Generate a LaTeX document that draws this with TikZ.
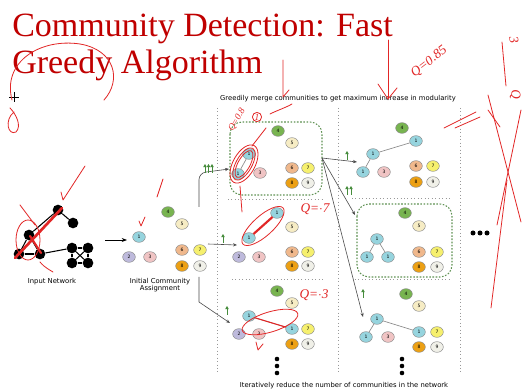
\documentclass[tikz,border=0pt]{standalone}
\usepackage{fontspec}
\setmainfont{Liberation Serif}
\newfontfamily\slidesans{DejaVu Sans}
\usetikzlibrary{arrows.meta,shapes.geometric}

\definecolor{titlered}{RGB}{192,0,0}
\definecolor{inkred}{RGB}{226,38,38}
\definecolor{boxgreen}{RGB}{96,146,84}
\definecolor{arrowgreen}{RGB}{70,140,60}
\definecolor{comA}{RGB}{150,212,222}
\definecolor{comB}{RGB}{190,186,220}
\definecolor{comC}{RGB}{240,196,196}
\definecolor{comD}{RGB}{120,180,80}
\definecolor{comE}{RGB}{246,236,196}
\definecolor{comF}{RGB}{240,184,140}
\definecolor{comG}{RGB}{246,240,110}
\definecolor{comH}{RGB}{236,160,20}
\definecolor{comI}{RGB}{240,240,232}

\tikzset{
  comm/.style={ellipse,draw=black!45,line width=0.35pt,inner sep=0pt,minimum width=9.5pt,minimum height=8pt,font=\slidesans\fontsize{3.4}{4}\selectfont},
  k1/.style={comm,fill=comA},
  k2/.style={comm,fill=comB},
  k3/.style={comm,fill=comC},
  k4/.style={comm,fill=comD},
  k5/.style={comm,fill=comE},
  k6/.style={comm,fill=comF},
  k7/.style={comm,fill=comG},
  k8/.style={comm,fill=comH},
  k9/.style={comm,fill=comI},
  vertex/.style={circle,fill=black,inner sep=0pt,minimum size=8pt},
  netedge/.style={black,line width=0.8pt},
  merged/.style={black!45,line width=0.5pt},
  flow/.style={black!70,line width=0.45pt,-{Stealth[length=3pt,width=2.4pt]}},
  gain/.style={arrowgreen,line width=0.7pt,-{Triangle[length=2.4pt,width=2.6pt]}},
  divider/.style={black!40,dotted,line width=0.6pt},
  groupbox/.style={boxgreen,dash pattern=on 1.2pt off 1.2pt,line width=0.8pt,rounded corners=9pt},
  caption/.style={font=\slidesans\fontsize{5.1}{5.6}\selectfont,inner sep=0pt},
  title/.style={font=\fontsize{25.5}{28}\selectfont,text=titlered,inner sep=0pt},
  ink/.style={inkred,line width=0.6pt,line cap=round,line join=round},
  inktext/.style={text=inkred,font=\itshape\fontsize{10}{10}\selectfont,inner sep=0pt},
}

\begin{document}
\begin{tikzpicture}[x=0.75pt,y=0.75pt,yscale=-1,xscale=1]
    \path[use as bounding box,fill=white] (0,0) rectangle (522,392);

    % Title
    \node[title,anchor=base west] (ttl1) at (12,37) {Community Detection: Fast};
    \node[title,anchor=base west] (ttl2) at (12,74) {Greedy Algorithm};

    % Captions
    \node[caption] (hdr) at (338,99) {Greedily merge communities to get maximum increase in modularity};
    \node[caption] (ftr) at (344,386) {Iteratively reduce the number of communities in the network};
    \node[caption] (capnet) at (52,282) {Input Network};
    \node[caption,align=center] (capinit) at (160,285) {Initial Community\\Assignment};

    % Dividers
    \draw[divider] (217,108) -- (217,372);
    \draw[divider] (338,108) -- (338,372);
    \draw[divider] (460,108) -- (460,372);
    \draw[divider] (228,199) -- (323,199);
    \draw[divider] (232,279) -- (325,279);
    \draw[divider] (352,198) -- (450,198);
    \draw[divider] (355,279) -- (452,279);

    % Green groups
    \draw[groupbox] (230,122) rectangle (322,195);
    \draw[groupbox] (357,204) rectangle (452,277);

    % Input network
    \node[vertex] (va) at (58,210) {};
    \node[vertex] (vb) at (73,223) {};
    \node[vertex] (vc) at (29,235) {};
    \node[vertex] (vd) at (19,254) {};
    \node[vertex] (ve) at (40,254) {};
    \node[vertex] (s1) at (72,248) {};
    \node[vertex] (s2) at (88,248) {};
    \node[vertex] (s3) at (72,263) {};
    \node[vertex] (s4) at (88,263) {};
    \foreach \a/\b in {va/vb,va/vc,vc/vd,vc/ve,vd/ve,ve/s1,s1/s2,s2/s4,s4/s3,s3/s1,s1/s4,s2/s3}
        \draw[netedge] (\a) -- (\b);

    % Initial assignment
    \node[k1] (i1) at (139,237) {1};
    \node[k2] (i2) at (129,257) {2};
    \node[k3] (i3) at (150,257) {3};
    \node[k4] (i4) at (168,212) {4};
    \node[k5] (i5) at (182,224) {5};
    \node[k6] (i6) at (182,250) {6};
    \node[k7] (i7) at (200,250) {7};
    \node[k8] (i8) at (182,266) {8};
    \node[k9] (i9) at (200,266) {9};

    % Step 1, merge 1+2
    \node[k1] (t1a) at (249,154) {1};
    \node[k1] (t1b) at (238,174) {1};
    \node[k3] (t3) at (260,173) {3};
    \node[k4] (t4) at (278,131) {4};
    \node[k5] (t5) at (292,143) {5};
    \node[k6] (t6) at (292,168) {6};
    \node[k7] (t7) at (308,168) {7};
    \node[k8] (t8) at (292,183) {8};
    \node[k9] (t9) at (308,183) {9};

    % Step 1, merge 1+4
    \node[k1] (m1a) at (277,213) {1};
    \node[k1] (m1b) at (249,238) {1};
    \node[k2] (m2) at (239,257) {2};
    \node[k3] (m3) at (259,257) {3};
    \node[k5] (m5) at (292,227) {5};
    \node[k6] (m6) at (292,252) {6};
    \node[k7] (m7) at (308,252) {7};
    \node[k8] (m8) at (292,266) {8};
    \node[k9] (m9) at (308,266) {9};

    % Step 1, merge 1+6
    \node[k1] (b1a) at (249,316) {1};
    \node[k1] (b1b) at (292,329) {1};
    \node[k2] (b2) at (239,334) {2};
    \node[k3] (b3) at (259,334) {3};
    \node[k4] (b4) at (277,291) {4};
    \node[k5] (b5) at (292,303) {5};
    \node[k7] (b7) at (308,329) {7};
    \node[k8] (b8) at (292,344) {8};
    \node[k9] (b9) at (308,344) {9};

    % Step 2, top
    \node[k1] (r1a) at (373,154) {1};
    \node[k1] (r1b) at (363,172) {1};
    \node[k1] (r1c) at (416,141) {1};
    \node[k3] (r3) at (384,172) {3};
    \node[k4] (r4) at (402,128) {4};
    \node[k6] (r6) at (416,166) {6};
    \node[k7] (r7) at (433,166) {7};
    \node[k8] (r8) at (416,182) {8};
    \node[k9] (r9) at (433,182) {9};

    % Step 2, middle
    \node[k1] (g1a) at (377,239) {1};
    \node[k1] (g1b) at (367,257) {1};
    \node[k1] (g1c) at (388,257) {1};
    \node[k4] (g4) at (405,213) {4};
    \node[k5] (g5) at (419,226) {5};
    \node[k6] (g6) at (419,252) {6};
    \node[k7] (g7) at (437,252) {7};
    \node[k8] (g8) at (419,267) {8};
    \node[k9] (g9) at (437,267) {9};

    % Step 2, bottom
    \node[k1] (u1a) at (377,319) {1};
    \node[k1] (u1b) at (366,337) {1};
    \node[k1] (u1c) at (419,332) {1};
    \node[k3] (u3) at (388,337) {3};
    \node[k4] (u4) at (406,294) {4};
    \node[k5] (u5) at (419,306) {5};
    \node[k7] (u7) at (437,332) {7};
    \node[k8] (u8) at (419,347) {8};
    \node[k9] (u9) at (437,347) {9};

    \foreach \a/\b in {t1a/t1b,m1a/m1b,b1a/b1b,r1a/r1b,r1a/r1c,g1a/g1b,g1a/g1c,u1a/u1b,u1a/u1c}
        \draw[merged] (\a) -- (\b);

    % Flow arrows
    \coordinate (netout) at (105,240);
    \coordinate (initin) at (127,240);
    \coordinate (splittop) at (199,207);
    \coordinate (splitmid) at (208,244);
    \coordinate (splitbot) at (199,277);
    \coordinate (toptgt) at (229,169);
    \coordinate (midtgt) at (237,245);
    \coordinate (bottgt) at (230,323);
    \coordinate (grpout) at (322,158);
    \coordinate (rtop) at (357,162);
    \coordinate (rmid) at (355,215);
    \coordinate (rbot) at (363,317);
    \draw[black,line width=0.6pt,-{Stealth[length=4pt,width=3pt]}] (netout) -- (initin);
    \draw[flow,rounded corners=5pt] (splittop) -- (199,173) -- (toptgt);
    \draw[flow] (splitmid) -- (midtgt);
    \draw[flow] (splitbot) -- (199,302) -- (bottgt);
    \draw[flow] (grpout) -- (rtop);
    \draw[flow] (grpout) -- (rmid);
    \draw[flow] (grpout) -- (rbot);

    % Gain markers
    \foreach \x in {205,208.5,212} \draw[gain] (\x,173) -- (\x,164);
    \draw[gain] (223,243) -- (223,234);
    \draw[gain] (227,315) -- (227,306);
    \draw[gain] (347,160) -- (347,151);
    \foreach \x in {347,351} \draw[gain] (\x,195) -- (\x,186);
    \draw[gain] (363,298) -- (363,289);

    % Dots
    \foreach \y in {359,366,373} {
        \fill (277,\y) circle (2.3);
        \fill (402,\y) circle (2.3);
    }
    \foreach \x in {473,480,487} \fill (\x,233) circle (2.5);

    % Cursor
    \draw[black,line width=0.5pt] (9,97) -- (19,97) (14,92) -- (14,102);

    % Handwritten marks
    \draw[ink] (12,100) .. controls (2,62) and (40,38) .. (80,44) .. controls (115,50) and (122,80) .. (104,100);
    \draw[ink] (14,112) .. controls (4,120) and (8,136) .. (16,132) .. controls (22,126) and (16,114) .. (10,108);
    \draw[inkred,line width=2pt,line cap=round] (62,208) -- (15,258);
    \draw[inkred,line width=1.6pt,line cap=round] (30,236) -- (41,253);
    \draw[ink] (28,240) ellipse [x radius=12,y radius=20];
    \draw[ink] (20,205) -- (35,225);
    \draw[ink] (40,262) .. controls (45,268) and (50,270) .. (53,272);
    \draw[ink] (61,192) -- (63,200) -- (85,166);
    \draw[ink] (163,179) -- (157,197);
    \draw[ink] (139,221) -- (141,226) -- (145,217);

    \foreach \r/\s in {18/8,21/11,15/6}
        \draw[ink,shift={(244,164)},rotate=-61] (0,0) ellipse [x radius=\r,y radius=\s];
    \draw[ink] (240,186) -- (242,212);
    \draw[ink] (252,146) -- (266,128);
    \node[inktext,rotate=60,font=\itshape\fontsize{7}{7}\selectfont] (q08) at (237,120) {Q=0.8};
    \node[ink,draw,circle,inner sep=0.4pt,text=inkred,font=\itshape\fontsize{7}{7}\selectfont] (qone) at (257,117) {1};
    \draw[ink] (270,114) .. controls (278,110) and (285,108) .. (292,104);

    \draw[inkred,line width=1.6pt] (m1b) -- (m1a);
    \draw[ink,shift={(263,226)},rotate=-42] (0,0) ellipse [x radius=27,y radius=10];
    \node[inktext] (q7) at (315,209) {Q=$\cdot$7};

    \draw[inkred,line width=0.8pt] (b1a) -- (b1b);
    \draw[ink,shift={(270,322)},rotate=-17] (0,0) ellipse [x radius=29,y radius=10];
    \node[inktext] (q3) at (314,295) {Q=$\cdot$3};
    \draw[ink] (256,342) -- (258,350) -- (263,344);

    \node[inktext,rotate=38] (q85) at (429,62) {Q=0.85};
    \draw[ink] (388,40) -- (388,98);
    \draw[ink] (378,84) -- (388,99) -- (397,88);
    \draw[ink] (283,60) -- (283,97) -- (289,90);

    \draw[ink] (444,128) -- (476,112);
    \draw[ink] (455,128) -- (480,117);
    \draw[ink] (488,110) -- (500,127);
    \draw[ink] (502,42) -- (506,86);
    \node[inktext,rotate=-80] (hand3) at (514,40) {3};
    \node[inktext,rotate=-80] (handq) at (515,95) {Q};
    \draw[ink] (488,95) -- (521,222);
    \draw[ink] (521,110) -- (497,225);
    \draw[ink] (507,180) -- (491,308);
\end{tikzpicture}
\end{document}
